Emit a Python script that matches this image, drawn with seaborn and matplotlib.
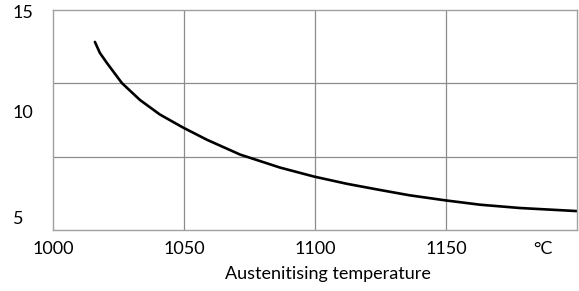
import matplotlib
matplotlib.use("Agg")
import matplotlib.pyplot as plt
import seaborn as sns
import pandas as pd

# curve
temperature = [1016.0, 1017.9, 1020.6, 1026.3, 1033.2, 1040.8, 1049.6, 1058.8, 1071.4,
               1086.6, 1099.6, 1112.2, 1124.8, 1136.0, 1149.6, 1163.0, 1178.2, 1200.0]
value = [13.55, 13.05, 12.59, 11.68, 10.91, 10.25, 9.66, 9.10, 8.43,
         7.84, 7.43, 7.10, 6.82, 6.58, 6.35, 6.15, 6.00, 5.86]

x_ticks = [1000, 1050, 1100, 1150, 1187]
x_labels = ["1000", "1050", "1100", "1150", "°C"]
y_label_pos = [14.95, 10.39, 5.57]
y_labels = ["15", "10", "5"]

df = pd.DataFrame({"t": temperature, "v": value})

sns.set_theme(style="white")
plt.rcParams["font.family"] = ["Lato", "DejaVu Sans"]

fig = plt.figure(figsize=(5.79, 2.91), dpi=100)
ax = fig.add_axes([0.0915, 0.2096, 0.905, 0.756])

sns.lineplot(data=df, x="t", y="v", ax=ax, color="black", linewidth=1.9)

ax.set_xlim(1000, 1200)
ax.set_ylim(5, 15)

# grid: every 50 °C, and three equal bands vertically
for gx in [1050, 1100, 1150]:
    ax.axvline(gx, color="#8c8c8c", linewidth=0.9, zorder=0)
for gy in [5 + 10 / 3, 5 + 20 / 3]:
    ax.axhline(gy, color="#8c8c8c", linewidth=0.9, zorder=0)

for s in ax.spines.values():
    s.set_color("#a0a0a0")
    s.set_linewidth(1.0)

ax.set_xticks(x_ticks, labels=x_labels)
ax.set_yticks(y_label_pos, labels=y_labels)
ax.tick_params(axis="x", length=0, pad=8, labelsize=13, colors="black")
ax.tick_params(axis="y", length=0, pad=29, labelsize=13, colors="black")
for lab in ax.get_yticklabels():
    lab.set_horizontalalignment("left")

ax.set_xlabel("Austenitising temperature", fontsize=13, color="black")
ax.set_ylabel("")
ax.xaxis.set_label_coords(0.525, -0.165)

fig.savefig("out.png", dpi=100)
